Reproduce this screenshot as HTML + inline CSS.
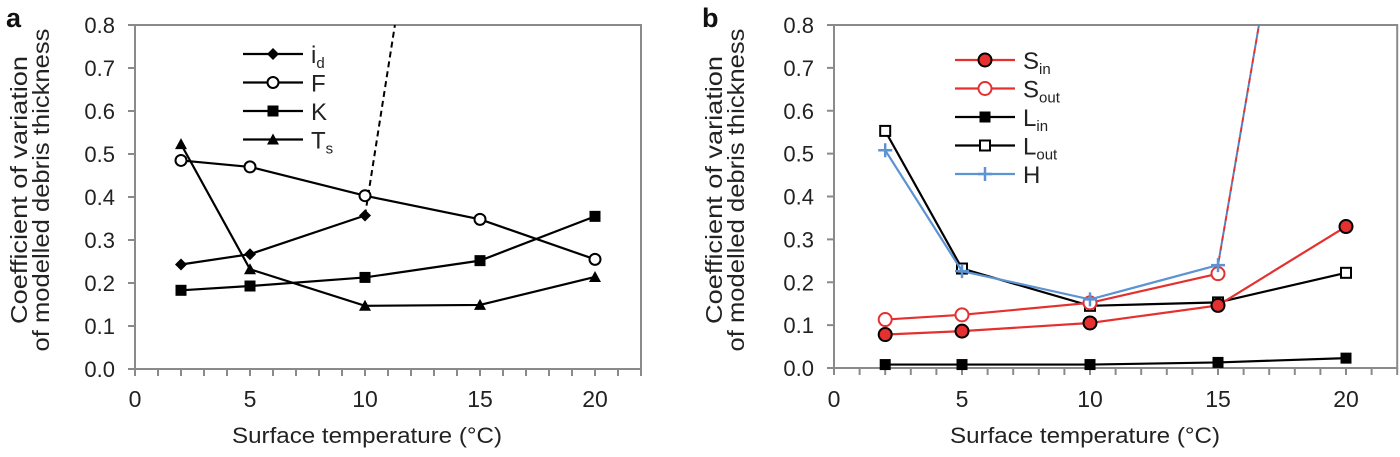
<!DOCTYPE html>
<html><head><meta charset="utf-8"><style>
body{margin:0;background:#fff;width:1400px;height:452px;overflow:hidden}
svg{font-family:"Liberation Sans",sans-serif}
</style></head><body>
<svg id="chart" width="1400" height="452" viewBox="0 0 1400 452"></svg>
<script>
const xCats=[2,5,10,15,20];
const yTicks=[0,0.1,0.2,0.3,0.4,0.5,0.6,0.7,0.8];
const xTicks=[0,5,10,15,20];
const aId=[0.243,0.267,0.357];
const aF=[0.485,0.47,0.403,0.348,0.255];
const aK=[0.183,0.193,0.213,0.252,0.355];
const aTs=[0.523,0.232,0.147,0.149,0.214];
const aIdDashEnd=[11.3,0.8];
const bSin=[0.078,0.086,0.105,0.146,0.33];
const bSout=[0.113,0.124,0.152,0.22];
const bLin=[0.008,0.008,0.008,0.013,0.023];
const bLout=[0.553,0.232,0.145,0.153,0.222];
const bH=[0.508,0.226,0.16,0.24];
const bHDashEnd=[16.6,0.8];

const NS='http://www.w3.org/2000/svg';
const svg=document.getElementById('chart');
function el(tag,attrs,parent,text){const e=document.createElementNS(NS,tag);for(const k in attrs)e.setAttribute(k,attrs[k]);if(text!==undefined)e.textContent=text;(parent||svg).appendChild(e);return e;}

function panel(p){
  const g=el('g',{});
  
  
  const X=v=>p.x0+(v/20)*(p.x20-p.x0);
  const Y=v=>p.y0-(v/0.8)*(p.y0-p.y8);
  const right=X(22);
  el('rect',{x:X(0),y:Y(0.8),width:right-X(0),height:Y(0)-Y(0.8),fill:'none',stroke:'#8a8a8a','stroke-width':2},g);
  for(let i=0;i<=22;i++){const t=el('line',{x1:X(i),x2:X(i),y1:Y(0),y2:Y(0)+7,stroke:'#8a8a8a','stroke-width':2},g);}
  yTicks.forEach(v=>{
    const t=el('line',{x1:X(0)-7,x2:X(0),y1:Y(v),y2:Y(v),stroke:'#8a8a8a','stroke-width':2},g);
    const l=el('text',{x:X(0)-20,y:Y(v)+8,'font-size':22,'text-anchor':'end',fill:'#222'},g,v.toFixed(1));
  });
  xTicks.forEach(v=>{const l=el('text',{x:X(v),y:407,'font-size':23,'text-anchor':'middle',fill:'#222'},g,String(v));});
  const xt=el('text',{x:p.xtx-135,y:443,'font-size':22,textLength:270,lengthAdjust:'spacingAndGlyphs',fill:'#222'},g,'Surface temperature (°C)');
  
  const yt=el('text',{transform:`translate(${p.ytx},${p.yty}) rotate(-90)`,'font-size':23,'text-anchor':'middle',fill:'#222'},g);
  
  el('tspan',{x:0,dy:0,textLength:268,lengthAdjust:'spacingAndGlyphs'},yt,'Coefficient of variation');
  el('tspan',{x:0,dy:22,textLength:323,lengthAdjust:'spacingAndGlyphs'},yt,'of modelled debris thickness');
  const lab=el('text',{x:p.lx,y:27,'font-size':27,'font-weight':'bold',fill:'#111'},g,p.label);
  
  return {g,X,Y};
}
function marker(g,type,cx,cy,color,fill){
  let m;
  if(type==='diamond')m=el('polygon',{points:`${cx},${cy-6} ${cx+6},${cy} ${cx},${cy+6} ${cx-6},${cy}`,fill:color},g);
  else if(type==='circle')m=el('circle',{cx,cy,r:5.5,fill:fill,stroke:color,'stroke-width':2},g);
  else if(type==='bigcircle')m=el('circle',{cx,cy,r:6.5,fill:fill,stroke:'#000','stroke-width':2},g);
  else if(type==='ocircle')m=el('circle',{cx,cy,r:6.5,fill:'#fff',stroke:color,'stroke-width':2},g);
  else if(type==='square')m=el('rect',{x:cx-5.5,y:cy-5.5,width:11,height:11,fill:color},g);
  else if(type==='osquare')m=el('rect',{x:cx-5,y:cy-5,width:10,height:10,fill:'#fff',stroke:color,'stroke-width':2},g);
  else if(type==='triangle')m=el('polygon',{points:`${cx},${cy-6} ${cx+6},${cy+5} ${cx-6},${cy+5}`,fill:color},g);
  else if(type==='plus'){m=el('path',{d:`M${cx-7},${cy}H${cx+7}M${cx},${cy-7}V${cy+7}`,stroke:color,'stroke-width':2.5},g);}
  
  
}
function series(P,name,vals,color,mtype,fill,w){
  const g=el('g',{},P.g);
  
  
  const pts=vals.map((v,i)=>P.X(xCats[i])+','+P.Y(v)).join(' ');
  el('polyline',{points:pts,fill:'none',stroke:color,'stroke-width':w||2.2},g);
  vals.forEach((v,i)=>marker(g,mtype,P.X(xCats[i]),P.Y(v),color,fill));
}
function dash(P,name,x1,y1,end,color,color2){
  const l=el('line',{x1:P.X(x1),y1:P.Y(y1),x2:P.X(end[0]),y2:P.Y(end[1]),stroke:color,'stroke-width':2,'stroke-dasharray':'6,4'},P.g);
  
  if(color2){const l2=el('line',{x1:P.X(x1),y1:P.Y(y1),x2:P.X(end[0]),y2:P.Y(end[1]),stroke:color2,'stroke-width':2,'stroke-dasharray':'5,5','stroke-dashoffset':5},P.g);}
}
function legend(P,items,x,y0,dy){
  const g=el('g',{},P.g);
  
  
  items.forEach((it,i)=>{
    const y=y0+i*dy;
    const e=el('g',{},g);
    
    
    el('line',{x1:x,x2:x+60,y1:y,y2:y,stroke:it.c,'stroke-width':2.2},e);
    marker(e,it.m,x+30,y,it.c,it.f);
    const t=el('text',{x:x+68,y:y+9,'font-size':24,fill:'#222'},e,it.t);
    if(it.s)el('tspan',{'font-size':15,dy:5},t,it.s);
  });
}
const A=panel({name:'panel-a',x0:135,x20:595,y0:369,y8:25,xtx:367,ytx:27,yty:190,lx:6,label:'a'});
dash(A,'id-extrapolation',10,aId[2],aIdDashEnd,'#000');
series(A,'series-F',aF,'#000','circle','#fff');
series(A,'series-K',aK,'#000','square');
series(A,'series-Ts',aTs,'#000','triangle');
series(A,'series-id',aId,'#000','diamond');
legend(A,[{t:'i',s:'d',c:'#000',m:'diamond'},{t:'F',c:'#000',m:'circle',f:'#fff'},{t:'K',c:'#000',m:'square'},{t:'T',s:'s',c:'#000',m:'triangle'}],243,54,28.5);

const B=panel({name:'panel-b',x0:834,x20:1346,y0:368,y8:25,xtx:1085,ytx:722,yty:190,lx:702,label:'b'});
dash(B,'h-extrapolation',15,bH[3],bHDashEnd,'#4a86c8','#e53030');
series(B,'series-Lout',bLout,'#000','osquare');
series(B,'series-Lin',bLin,'#000','square');
series(B,'series-Sout',bSout,'#e53030','ocircle');
series(B,'series-Sin',bSin,'#e53030','bigcircle','#e53030');
series(B,'series-H',bH,'#5b93d3','plus');
legend(B,[{t:'S',s:'in',c:'#e53030',m:'bigcircle',f:'#e53030'},{t:'S',s:'out',c:'#e53030',m:'ocircle'},{t:'L',s:'in',c:'#000',m:'square'},{t:'L',s:'out',c:'#000',m:'osquare'},{t:'H',c:'#5b93d3',m:'plus'}],955,60,28.5);
</script>
</body></html>
